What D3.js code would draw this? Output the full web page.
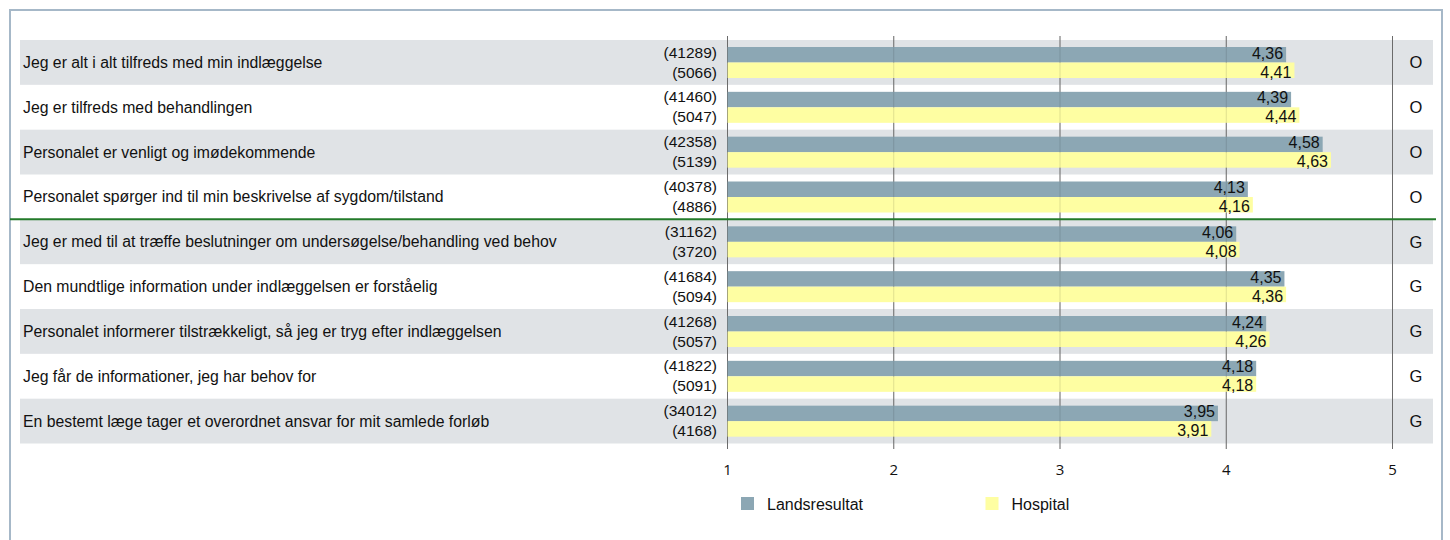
<!DOCTYPE html>
<html>
<head>
<meta charset="utf-8">
<script src="https://cdn.jsdelivr.net/npm/d3@7"></script>
<style>
  body { margin: 0; background: #fff; }
  text { font-family: "Liberation Sans", Arial, sans-serif; fill: #111; }
  .tick-label { font-family: "Open Sans", "DejaVu Sans", sans-serif; }
</style>
</head>
<body>
<svg id="chart" width="1450" height="540"></svg>
<script>
// data
var questions = [
  "Jeg er alt i alt tilfreds med min indlæggelse",
  "Jeg er tilfreds med behandlingen",
  "Personalet er venligt og imødekommende",
  "Personalet spørger ind til min beskrivelse af sygdom/tilstand",
  "Jeg er med til at træffe beslutninger om undersøgelse/behandling ved behov",
  "Den mundtlige information under indlæggelsen er forståelig",
  "Personalet informerer tilstrækkeligt, så jeg er tryg efter indlæggelsen",
  "Jeg får de informationer, jeg har behov for",
  "En bestemt læge tager et overordnet ansvar for mit samlede forløb"
];
var landsValues = [4.36, 4.39, 4.58, 4.13, 4.06, 4.35, 4.24, 4.18, 3.95];
var hospitalValues = [4.41, 4.44, 4.63, 4.16, 4.08, 4.36, 4.26, 4.18, 3.91];
var landsCounts = [41289, 41460, 42358, 40378, 31162, 41684, 41268, 41822, 34012];
var hospitalCounts = [5066, 5047, 5139, 4886, 3720, 5094, 5057, 5091, 4168];
var groups = ["O", "O", "O", "O", "G", "G", "G", "G", "G"];
var xTicks = [1, 2, 3, 4, 5];
var seriesNames = ["Landsresultat", "Hospital"];

var colLands = "#8ca7b4";
var colHosp = "#fefea2";
var colBand = "#e0e3e6";

var svg = d3.select("#chart");

// outer frame
svg.append("rect")
  .attr("x", 10).attr("y", 10)
  .attr("width", 1432).attr("height", 560)
  .attr("fill", "none")
  .attr("stroke", "#a6b8c8")
  .attr("stroke-width", 2);

var x = d3.scaleLinear().domain([1, 5]).range([727.5, 1392.5]);
var y = d3.scaleBand().domain(d3.range(questions.length)).range([40, 443.5]);
var rowH = y.bandwidth();
var barH = 15.5;

var rows = d3.range(questions.length);

// striped row bands
svg.append("g").selectAll("rect")
  .data(rows.filter(function(i){ return i % 2 == 0; }))
  .enter().append("rect")
  .attr("x", 20)
  .attr("y", function(i){ return y(i); })
  .attr("width", 1413)
  .attr("height", rowH)
  .attr("fill", colBand);

// grid lines (below bars)
svg.append("g").selectAll("line")
  .data(xTicks)
  .enter().append("line")
  .attr("x1", function(d){ return x(d); })
  .attr("x2", function(d){ return x(d); })
  .attr("y1", 36).attr("y2", 449)
  .attr("stroke", "#7a7a7a")
  .attr("stroke-width", 1);

// bars
var bars = svg.append("g");
bars.selectAll("rect.lands")
  .data(rows)
  .enter().append("rect")
  .attr("class", "lands")
  .attr("x", x(1))
  .attr("y", function(i){ return y(i) + 7; })
  .attr("width", function(i){ return x(landsValues[i]) - x(1); })
  .attr("height", barH)
  .attr("fill", colLands);

bars.selectAll("rect.hosp")
  .data(rows)
  .enter().append("rect")
  .attr("class", "hosp")
  .attr("x", x(1))
  .attr("y", function(i){ return y(i) + 7 + barH; })
  .attr("width", function(i){ return x(hospitalValues[i]) - x(1); })
  .attr("height", barH)
  .attr("fill", colHosp);

// faint grid over the bars
svg.append("g").selectAll("line")
  .data(xTicks)
  .enter().append("line")
  .attr("x1", function(d){ return x(d); })
  .attr("x2", function(d){ return x(d); })
  .attr("y1", 36).attr("y2", 449)
  .attr("stroke", "#000")
  .attr("stroke-opacity", 0.12)
  .attr("stroke-width", 1);

function fmt(v) { return d3.format(".2f")(v).replace(".", ","); }

// value labels
var labels = svg.append("g").attr("font-size", 16).attr("text-anchor", "end");
labels.selectAll("text.lv")
  .data(rows)
  .enter().append("text")
  .attr("x", function(i){ return x(landsValues[i]) - 3; })
  .attr("y", function(i){ return y(i) + 7 + barH - 4; })
  .text(function(i){ return fmt(landsValues[i]); });
labels.selectAll("text.hv")
  .data(rows)
  .enter().append("text")
  .attr("x", function(i){ return x(hospitalValues[i]) - 3; })
  .attr("y", function(i){ return y(i) + 7 + 2 * barH - 0.5; })
  .text(function(i){ return fmt(hospitalValues[i]); });

// counts
var counts = svg.append("g").attr("font-size", 15.5).attr("text-anchor", "end");
counts.selectAll("text.lc")
  .data(rows)
  .enter().append("text")
  .attr("x", 717)
  .attr("y", function(i){ return y(i) + 17.5; })
  .text(function(i){ return "(" + landsCounts[i] + ")"; });
counts.selectAll("text.hc")
  .data(rows)
  .enter().append("text")
  .attr("x", 717)
  .attr("y", function(i){ return y(i) + 37.5; })
  .text(function(i){ return "(" + hospitalCounts[i] + ")"; });

// question labels
svg.append("g").attr("font-size", 15.8).selectAll("text")
  .data(rows)
  .enter().append("text")
  .attr("x", 23)
  .attr("y", function(i){ return y(i) + rowH / 2; })
  .attr("dy", "0.35em")
  .text(function(i){ return questions[i]; });

// group letters
svg.append("g").attr("font-size", 16.5).attr("text-anchor", "middle").selectAll("text")
  .data(rows)
  .enter().append("text")
  .attr("x", 1416)
  .attr("y", function(i){ return y(i) + rowH / 2; })
  .attr("dy", "0.35em")
  .text(function(i){ return groups[i]; });

// green separator between O and G groups
svg.append("line")
  .attr("x1", 10).attr("x2", 1436)
  .attr("y1", y(4)).attr("y2", y(4))
  .attr("stroke", "#237a2a")
  .attr("stroke-width", 2);

// x axis labels
svg.append("g").attr("font-size", 15).attr("text-anchor", "middle").selectAll("text")
  .data(xTicks)
  .enter().append("text")
  .attr("class", "tick-label")
  .attr("x", function(d){ return x(d); })
  .attr("y", 475)
  .text(function(d){ return d; });

// legend
var legX = [741, 985.5];
var legend = svg.append("g").selectAll("g")
  .data(seriesNames)
  .enter().append("g")
  .attr("transform", function(d, i){ return "translate(" + legX[i] + ",497)"; });
legend.append("rect")
  .attr("width", 13).attr("height", 13)
  .attr("fill", function(d, i){ return i == 0 ? colLands : colHosp; });
legend.append("text")
  .attr("x", 26).attr("y", 13)
  .attr("font-size", 16)
  .text(function(d){ return d; });
</script>
</body>
</html>
